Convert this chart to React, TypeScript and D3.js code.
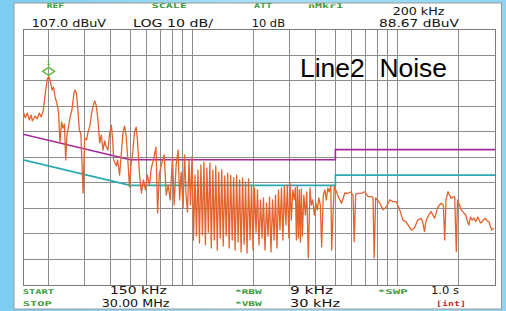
import React from "react";
import * as d3 from "d3";

const W = 506;
const H = 311;

// ---- data ----
const traceFreqMHz = [
  0.150, 0.1506, 0.1539, 0.1574, 0.1610, 0.1646, 0.1665, 0.1721, 0.1760, 0.1800, 0.1840, 0.1882, 0.1923, 0.1966, 0.2000, 0.2033, 0.2079, 0.2114, 0.2150, 0.2199, 0.2235, 0.2273, 0.2312, 0.2350, 0.2389, 0.2422, 0.2457, 0.2498, 0.2541, 0.2598, 0.2658, 0.2686, 0.2732, 0.2777, 0.2824, 0.2872, 0.2945, 0.2997, 0.3065, 0.3106, 0.3176, 0.3248, 0.3322, 0.3358, 0.3415, 0.3472, 0.3550, 0.3610, 0.3684, 0.3753, 0.3817, 0.3892, 0.3968, 0.4044, 0.4103, 0.4150, 0.4276, 0.4338, 0.4436, 0.4536, 0.4612, 0.4690, 0.4770, 0.4867, 0.4958, 0.5042, 0.5127, 0.5242, 0.5342, 0.5420, 0.5542, 0.5667, 0.5797, 0.5926, 0.6058, 0.6195, 0.6335, 0.6480, 0.6675, 0.6796, 0.6925, 0.7082, 0.7321, 0.7487, 0.7654, 0.7827, 0.8032, 0.8183, 0.8368, 0.8555, 0.8701, 0.8848, 0.9050, 0.9198, 0.9354, 0.9509, 0.967, 0.9834, 1.000, 1.0168, 1.034, 1.0514, 1.069, 1.087,
  1.105, 1.124, 1.143, 1.162, 1.182, 1.201, 1.222, 1.242, 1.264, 1.284, 1.306, 1.328, 1.350, 1.373, 1.396, 1.420, 1.444, 1.468, 1.493, 1.518, 1.544, 1.570, 1.596, 1.623, 1.650, 1.678, 1.706, 1.735, 1.765, 1.795, 1.825, 1.855, 1.887,
  1.919, 1.951, 1.984, 2.017, 2.052, 2.086, 2.122, 2.158, 2.194, 2.230, 2.269, 2.308, 2.347, 2.387, 2.427, 2.469, 2.512, 2.553, 2.596, 2.640, 2.685, 2.730, 2.775, 2.820, 2.869, 2.917, 2.967, 3.006, 3.050, 3.101, 3.155, 3.191, 3.227, 3.263, 3.300, 3.337, 3.375, 3.412, 3.451, 3.510, 3.569, 3.628, 3.690, 3.760, 3.815, 3.878, 3.948, 4.016, 4.084, 4.153, 4.223, 4.286, 4.365, 4.442, 4.518, 4.594, 4.672, 4.751, 4.794, 4.934,
  5.062, 5.16, 5.355, 5.560, 5.77, 5.966, 6.099, 6.176, 6.282, 6.46, 6.704, 6.958, 7.22, 7.492, 7.632, 7.725, 7.858, 8.234, 8.541, 8.862, 9.202, 9.545, 9.912, 10.29, 10.68, 11.05, 11.3, 11.73, 12.14, 12.6, 13.07, 13.32, 13.59, 13.79, 14.1, 14.63, 15.23, 15.8, 16.40, 16.80, 17.06, 17.31, 17.7, 18.00, 18.37, 18.71, 19.08, 19.43, 19.69, 20.14, 20.55, 20.93, 21.59, 22.03, 22.4, 22.78, 23.24, 23.68, 24.19, 24.68, 25.1, 25.53, 26.05, 26.53, 26.98, 27.53, 28.0, 28.48, 28.87, 29.6,
];

const traceLevelDbuV = [
  66.5, 74.7, 72.4, 74.3, 71.6, 73.5, 71.2, 73.1, 72.0, 74.3, 72.8, 75.1, 81.4, 87.2, 88.7, 87.2, 83.3, 84.5, 80.6, 77.8, 74.7, 62.6, 70.8, 68.4, 70.0, 55.9, 65.7, 68.8, 72.4, 75.5, 82.1, 83.3, 82.1, 75.5, 67.7, 66.1, 43.0, 64.5, 63.8, 66.5, 69.2, 74.7, 78.2, 79.0, 77.1, 72.4, 62.6, 65.7, 59.8, 63.4, 61.0, 59.8, 66.5, 69.6, 63.8, 55.9, 53.6, 55.9, 50.0, 59.8, 66.9, 69.2, 65.7, 55.9, 45.4, 54.0, 57.9, 66.9, 68.8, 63.8, 50.8, 43.0, 48.1, 44.2, 50.0, 46.1, 52.8, 55.9, 61.0, 35.2, 50.0, 54.0, 57.9, 42.2, 46.1, 40.3, 57.1, 38.3, 54.0, 59.8, 40.3, 51.2, 37.2, 57.9, 42.2, 35.6, 55.9, 38.3, 57.1, 24.6, 50.0, 26.2, 52.0, 23.4,
  54.0, 26.6, 55.1, 22.7, 52.8, 27.7, 54.7, 21.5, 52.0, 24.6, 53.6, 20.7, 51.2, 25.4, 52.0, 22.3, 49.7, 26.2, 50.8, 21.5, 50.0, 24.6, 48.9, 20.7, 50.0, 23.8, 48.1, 19.9, 48.9, 23.0, 47.3, 19.5, 48.5,
  24.6, 46.1, 20.7, 45.0, 27.7, 44.2, 22.7, 40.3, 25.4, 41.1, 20.7, 39.1, 26.2, 41.4, 19.9, 40.3, 24.6, 42.2, 21.5, 44.2, 28.5, 45.0, 24.6, 45.8, 30.5, 46.1, 25.4, 46.9, 32.4, 44.2, 40.3, 45.0, 24.6, 45.8, 25.4, 44.2, 23.8, 44.6, 26.2, 42.2, 34.4, 43.4, 17.6, 45.0, 38.3, 40.3, 34.4, 39.1, 36.4, 41.1, 38.3, 21.9, 42.2, 44.2, 40.3, 45.0, 43.4, 45.8, 20.7, 45.5,
  43.5, 41.6, 39.0, 43.0, 42.9, 43.5, 41.8, 23.9, 42.6, 42.9, 42.9, 43.5, 41.6, 41.6, 41.1, 17.6, 41.1, 39.0, 36.4, 37.6, 40.3, 39.6, 39.6, 36.4, 32.4, 31.7, 30.5, 28.5, 29.3, 32.4, 33.1, 31.7, 27.9, 31.7, 33.7, 35.7, 33.1, 37.6, 39.0, 38.3, 24.6, 40.3, 43.5, 42.2, 40.9, 41.4, 41.6, 20.1, 40.3, 38.3, 36.4, 35.6, 34.4, 31.7, 30.5, 33.6, 32.4, 33.2, 31.8, 33.6, 32.4, 31.3, 31.8, 32.8, 33.1, 32.0, 31.8, 30.1, 28.5, 29.2,
];

const qpLimitFreq = [0.15, 0.5, 5, 5, 30];
const qpLimitLevel = [66, 56, 56, 60, 60];
const avLimitFreq = [0.15, 0.5, 5, 5, 30];
const avLimitLevel = [56, 46, 46, 50, 50];

const freqGridMHz = [0.2, 0.3, 0.4, 0.5, 0.6, 0.7, 0.8, 0.9, 1, 2, 3, 4, 5, 6, 7, 8, 9, 10, 20];
const levelGridDbuV = [17, 27, 37, 47, 57, 67, 77, 87, 97];
const freqDomain = [0.15, 30];
const levelDomain = [7, 107];

const markerFreq = 0.2;
const markerLevel = 88.67;
const markerLabel = "1";

const headerKeys = ["REF", "SCALE", "ATT", "nMkr1"];
const headerValues = ["107.0 dBuV", "LOG 10 dB/", "10 dB", "88.67 dBuV"];
const markerFreqText = "200 kHz";
const footerKeys = ["START", "STOP", "*RBW", "*VBW", "*SWP"];
const footerValues = ["150 kHz", "30.00 MHz", "9 kHz", "30 kHz", "1.0 s"];
const footerFlag = "[int]";
const titleText = "Line2  Noise";

// ---- layout ----
const PL = 23, PR = 495, PT = 29.5, PB = 285;

export default function App() {
  const x = d3.scaleLog().domain(freqDomain).range([PL, PR]);
  const y = d3.scaleLinear().domain(levelDomain).range([PB, PT]);

  const n = Math.min(traceFreqMHz.length, traceLevelDbuV.length);
  const trace = d3.range(n).map((i) => [traceFreqMHz[i], traceLevelDbuV[i]] as [number, number]);
  const qp = qpLimitFreq.map((f, i) => [f, qpLimitLevel[i]] as [number, number]);
  const av = avLimitFreq.map((f, i) => [f, avLimitLevel[i]] as [number, number]);

  const line = d3
    .line<[number, number]>()
    .x((d) => x(d[0]))
    .y((d) => y(d[1]));

  const mx = x(markerFreq);
  const my = y(markerLevel) - 5;

  const green = "#3c9a3c";
  const blackFont = "'DejaVu Sans', sans-serif";
  const smallFont = "'DejaVu Sans Mono', monospace";

  const hk = [
    { x: 46.7, w: 17.3 },
    { x: 151.7, w: 35.3 },
    { x: 254, w: 18 },
    { x: 308, w: 35 },
  ];
  const hv = [
    { x: 31.7, w: 74.3 },
    { x: 133, w: 80 },
    { x: 251.7, w: 33.3 },
    { x: 379, w: 80 },
  ];
  const fk = [
    { x: 22.7, y: 293.5, w: 31.3 },
    { x: 22.7, y: 306, w: 29 },
    { x: 235, y: 293.5, w: 26.7 },
    { x: 235, y: 306, w: 26.7 },
    { x: 377.7, y: 293.5, w: 30 },
  ];
  const fv = [
    { x: 110, y: 294.3, w: 56.7 },
    { x: 101.7, y: 307.3, w: 67.8 },
    { x: 290, y: 294.3, w: 43 },
    { x: 290, y: 307.3, w: 50 },
    { x: 431, y: 294.3, w: 28 },
  ];

  return (
    <svg width={W} height={H} style={{ display: "block", position: "absolute", left: 0, top: 0 }}>
      <defs>
        <linearGradient id="bg" x1="0" y1="0" x2="1" y2="0">
          <stop offset="0" stopColor="#7ccdf0" />
          <stop offset="0.5" stopColor="#a6e0f8" />
          <stop offset="1" stopColor="#8fd5f3" />
        </linearGradient>
        <clipPath id="plotClip">
          <rect x={PL} y={PT} width={PR - PL} height={PB - PT} />
        </clipPath>
      </defs>
      <rect x={0} y={0} width={W} height={H} fill="url(#bg)" />
      <rect x={14} y={3} width={487.5} height={306} fill="#ffffff" stroke="#9a9a9a" strokeWidth={1} />

      {/* grid */}
      <g stroke="#8c8c8c" strokeWidth={1} shapeRendering="crispEdges">
        {freqGridMHz.map((f) => (
          <line key={"v" + f} x1={x(f)} x2={x(f)} y1={PT} y2={PB} />
        ))}
        {levelGridDbuV.map((l) => (
          <line key={"h" + l} x1={PL} x2={PR} y1={y(l)} y2={y(l)} />
        ))}
        <rect x={PL} y={PT} width={PR - PL} height={PB - PT} fill="none" stroke="#7a7a7a" />
      </g>

      {/* limit lines and trace */}
      <g clipPath="url(#plotClip)" fill="none">
        <path d={line(av) || ""} stroke="#2aaab0" strokeWidth={1.6} />
        <path d={line(qp) || ""} stroke="#a4279c" strokeWidth={1.6} />
        <path d={line(trace) || ""} stroke="#e6622c" strokeWidth={1.3} strokeLinejoin="round" />
      </g>

      {/* marker */}
      <path
        d={`M${mx},${my - 4} L${mx + 6},${my} L${mx},${my + 4} L${mx - 6},${my} Z`}
        fill="none"
        stroke="#5bb83a"
        strokeWidth={1.4}
      />
      <text x={mx} y={my - 6} fontSize={6} fill="#5bb83a" textAnchor="middle" fontFamily={smallFont} fontWeight="bold">
        {markerLabel}
      </text>

      {/* title */}
      <text x={300} y={76.5} fontSize={25} fill="#000" fontFamily="'Liberation Sans', Arial, sans-serif" textLength={147} lengthAdjust="spacingAndGlyphs" style={{ whiteSpace: "pre" }}>
        {titleText}
      </text>

      {/* header */}
      {headerKeys.map((t, i) => (
        <text key={t} x={hk[i].x} y={7.8} fontSize={6.5} fontWeight="bold" fill={green} fontFamily={smallFont} textLength={hk[i].w} lengthAdjust="spacingAndGlyphs">
          {t}
        </text>
      ))}
      {headerValues.map((t, i) => (
        <text key={t} x={hv[i].x} y={26.7} fontSize={10} fill="#111" fontFamily={blackFont} textLength={hv[i].w} lengthAdjust="spacingAndGlyphs" style={{ whiteSpace: "pre" }}>
          {t}
        </text>
      ))}
      <text x={392.7} y={15} fontSize={10} fill="#111" fontFamily={blackFont} textLength={51.6} lengthAdjust="spacingAndGlyphs">
        {markerFreqText}
      </text>

      {/* footer */}
      {footerKeys.map((t, i) => (
        <text key={t} x={fk[i].x} y={fk[i].y} fontSize={6.5} fontWeight="bold" fill={green} fontFamily={smallFont} textLength={fk[i].w} lengthAdjust="spacingAndGlyphs">
          {t}
        </text>
      ))}
      {footerValues.map((t, i) => (
        <text key={t} x={fv[i].x} y={fv[i].y} fontSize={10} fill="#111" fontFamily={blackFont} textLength={fv[i].w} lengthAdjust="spacingAndGlyphs">
          {t}
        </text>
      ))}
      <text x={436} y={306} fontSize={7} fontWeight="bold" fill="#c42a2a" fontFamily={smallFont} textLength={30} lengthAdjust="spacingAndGlyphs">
        {footerFlag}
      </text>
    </svg>
  );
}
